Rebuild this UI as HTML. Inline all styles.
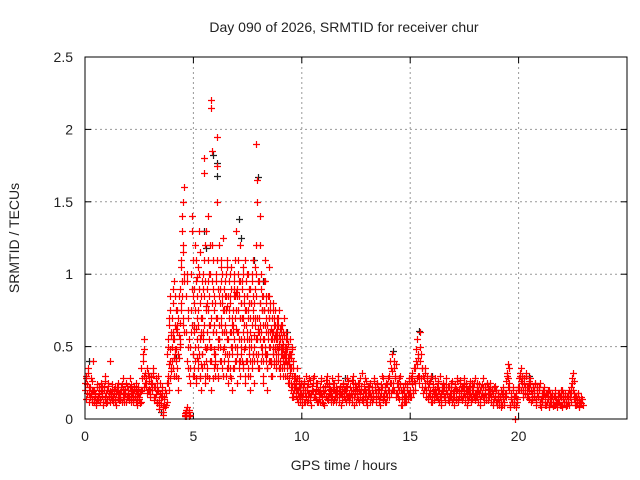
<!DOCTYPE html>
<html><head><meta charset="utf-8"><style>
html,body{margin:0;padding:0;background:#fff;width:640px;height:480px;overflow:hidden}
svg text{font-family:"Liberation Sans",sans-serif;font-size:14px;fill:#222}
</style></head><body>
<svg id="chart" width="640" height="480" xmlns="http://www.w3.org/2000/svg">
<text x="344" y="32" text-anchor="middle">Day 090 of 2026, SRMTID for receiver chur</text>
<text x="344" y="470" text-anchor="middle">GPS time / hours</text>
<text transform="translate(19,238) rotate(-90)" text-anchor="middle">SRMTID / TECUs</text>
<g id="grid"></g>
<g id="ticks"></g>
<g id="blackpts"></g>
<g id="redpts"></g>
<rect x="85" y="57" width="542" height="362" fill="none" stroke="#000" stroke-width="1"/>
</svg>
<script>
const xTicks = [0,5,10,15,20];
const yTicks = [0,0.5,1,1.5,2,2.5];
const yTickLabels = ["0","0.5","1","1.5","2","2.5"];
const binWidth = 0.2;
const redBins = [
"25 30 18 35 22","15 28 12 20 40","12 18 10 22 15","15 20 12 25 18","10 22 30 15 18","12 25 18 40 15","15 20 12 18 22","10 20 15 25 18","15 22 12 28 18","12 18 25 15 20",
"15 28 12 20 18","12 20 15 25 18","10 22 15 18 12","20 45 30 55 25","25 35 20 30 15","20 30 25 35 15","15 28 20 12 30","10 25 15 20 8","5 15 20 10 25","30 50 70 20 40 85 60 35",
"40 80 55 95 30 65 45 75","30 60 75 45 20 85 50 55","80 110 140 95 120 65 160 100","3 5 2 8 100 70 50 30","5 3 25 60 90 130 110 45","30 60 80 120 40 95 25 70 55 105","40 75 100 130 30 55 85 20 60 45","35 60 90 110 170 180 25 50 75 130","30 50 80 95 140 100 65 40 120 20","220 215 185 120 90 60 35 75 45 30",
"40 70 100 150 195 175 55 30 85 120","50 90 65 110 40 80 100 125 30 60","60 90 45 85 100 75 35 55 110 25","40 75 95 60 30 85 105 50 70 20","35 65 90 100 55 85 40 130 75 25","50 85 110 60 40 95 30 70 120 80","45 70 90 60 100 35 80 55 110 25","40 65 85 55 100 30 75 50 90 20","30 60 80 50 95 40 70 45 110 25","40 70 90 55 100 190 150 165 60 35",
"35 60 80 140 120 100 50 75 45 25","30 55 75 95 110 65 45 85 40 20","35 60 85 105 70 50 40 75 55 30","30 55 75 60 45 70 40 65 50 35","40 60 70 55 45 65 35 50 75 30","35 50 65 45 55 40 60 30 45 70","30 45 60 40 50 35 55 25 40 45","25 40 55 35 45 20 30 50 15 35","15 20 25 30 18 22 28 35","12 18 22 28 15 20 25 10",
"15 20 25 12 18 30","12 22 18 28 15","10 20 25 15 30","15 25 12 20 18","12 18 28 15 22","10 20 15 25 30","15 22 18 12 28","12 25 20 15 18","15 30 12 22 18","10 18 25 15 20",
"12 22 28 15 18","15 20 12 25 30","10 18 22 15 25","12 25 15 20 32","15 20 28 12 18","10 22 18 25 15","12 20 15 28 22","15 25 18 12 20","10 22 30 15 18","12 20 25 15 28",
"15 25 35 45 20","20 40 30 15 25","15 25 20 30 10","10 20 15 25 12","12 22 18 28 15","15 25 30 20 35","20 40 55 30 45","25 60 45 35 30","20 35 25 15 30","15 25 20 30 12",
"12 22 18 28 15","15 25 20 12 30","10 20 25 15 22","12 28 18 22 15","15 20 25 12 18","10 22 15 28 20","12 18 25 15 22","15 28 20 12 25","10 20 15 22 18","12 25 18 15 28",
"15 20 25 12 18","10 22 18 28 15","12 20 15 25 22","15 18 25 12 20","10 22 15 20 12","12 18 10 15 20","10 15 20 12 18","15 30 38 20 25","8 15 12 20 10","0 10 15 12 20",
"20 30 35 25 15","18 28 22 32 15","15 25 20 28 12","15 22 18 25 12","10 20 15 22 25","8 15 12 20 18","10 18 12 15 20","8 12 15 18 10","10 15 20 12 8","12 18 10 15 20",
"8 15 12 18 10","10 15 12 20 18","12 25 32 18 15","10 15 12 18 8","12 15 10"
];
const redBins2 = [
"20 28 14 24 32 17","12 22 17 26 14 19","14 20 16 11 24 13","13 17 22 14 19 23","16 12 20 26 14 11","14 20 23 16 12 19","17 13 24 16 21 14","12 17 22 14 19 13","17 13 20 24 15 21","14 21 17 12 23 16",
"17 13 22 15 24 19","14 18 23 16 12 21","13 17 21 14 11 19","35 28 40 22 48 32","22 28 18 32 26 21","17 24 29 20 32 22","13 22 17 25 11 19","7 13 18 11 22 16","3 10 14 8 18 12","45 55 25 65 38 75 28 48 58 33",
"50 70 35 60 90 42 55 85 48 62","40 48 65 35 70 28 58 42 66 52","90 105 75 130 85 115 70 150 60 95","4 2 6 60 85 40 95 35 75 55","2 6 35 50 75 100 140 65 85 30","45 65 35 90 50 75 110 28 62 85 42 98","50 65 35 90 45 80 115 28 70 58 38 95","45 70 55 100 38 85 65 120 30 95 48 78","40 60 90 35 75 110 55 85 28 65 50 100","50 70 40 95 80 110 28 60 85 48 65 38",
"45 80 60 95 35 110 70 50 90 28 65 55","55 80 40 95 70 105 35 60 85 48 75 30","50 75 40 95 65 85 30 60 105 45 78 35","55 85 45 70 100 35 80 60 90 28 65 50","45 75 60 95 35 85 110 50 70 40 88 62","60 90 45 75 100 35 85 55 95 40 70 50","55 80 40 95 70 105 38 65 85 48 75 30","50 75 95 40 85 60 100 35 70 55 80 45","40 70 90 55 80 100 35 65 85 45 75 58","50 80 65 105 45 85 120 55 70 40 95 62",
"45 70 95 55 80 65 40 90 60 75 50 85","40 65 85 55 75 50 95 45 70 60 80 35","45 65 75 55 85 40 70 60 50 80 38 62","40 60 70 50 80 45 65 55 38 75 48 58","45 55 65 50 60 40 70 48 58 35 52 62","40 55 45 60 50 35 65 42 52 48 38 58","35 50 40 55 45 30 48 38 52 42","28 38 45 32 42 25 35 48 22 40","18 24 30 22 28 16 26 20","14 20 26 16 22 12 24 18",
"14 22 18 26 12 20","16 20 24 13 18 27","13 17 23 19 28 15","17 21 14 25 19 12","14 22 17 26 12 19","11 18 23 16 27 14","13 24 17 21 15 19","16 21 13 25 18 22","12 20 27 15 19 23","17 13 21 24 16 19",
"14 18 23 16 26 12","13 22 17 27 15 20","15 19 24 12 21 17","14 20 28 17 23 13","12 18 24 16 21 26","14 20 16 23 12 18","16 22 18 14 26 20","12 18 24 16 21 14","15 24 18 22 13 28","16 22 18 12 24 20",
"20 30 40 25 18 33","25 35 20 28 18 38","18 22 28 14 24 20","14 18 22 12 20 16","16 20 24 14 26 18","20 28 24 32 18 26","25 35 48 38 28 42","30 50 40 28 35 22","18 28 22 32 20 26","14 22 18 26 16 28",
"15 19 24 13 21 17","18 22 14 26 20 16","13 17 22 19 24 15","15 20 24 17 13 22","12 18 22 16 26 14","15 19 24 13 21 26","14 20 16 27 19 23","13 22 18 24 16 20","15 19 13 23 17 26","16 20 14 22 25 18",
"13 17 22 15 20 24","14 20 16 24 18 22","15 18 22 13 24 17","13 21 17 22 16 19","12 18 14 23 16 20","10 14 18 12 16 8","12 17 14 22 10 16","18 26 32 22 28 35","10 14 18 12 22 16","12 16 8 18 14 22",
"22 28 32 20 26 30","20 24 28 18 30 22","17 22 26 14 24 19","13 18 22 16 20 24","14 18 22 16 20 12","10 14 18 12 16 22","12 16 10 18 14 20","10 14 18 12 16 9","12 16 10 18 14 11","14 18 12 16 10 20",
"10 14 18 12 16 9","12 16 14 18 10 15","18 22 28 20 26 14","12 16 10 14 18 9","13 11 14"
];
const blackHours = [5.9,6.1,6.1,8.0,7.1,7.2,4.2,15.4,14.2,0.2,5.5,5.6,7.8,8.2,9.3,16,12,20.5,3.5,4.6];
const blackValues = [1.82,1.77,1.68,1.67,1.38,1.25,0.42,0.61,0.47,0.4,1.3,1.18,1.1,0.95,0.6,0.3,0.28,0.3,0.05,0.02];

const X0=85, X1=627, Y0=419, Y1=57;
const xs = h => X0 + h/25*(X1-X0);
const ys = v => Y0 - v/2.5*(Y0-Y1);
const NS="http://www.w3.org/2000/svg";
function mk(tag, attrs, parent){const e=document.createElementNS(NS,tag);for(const k in attrs)e.setAttribute(k,attrs[k]);parent.appendChild(e);return e;}
const grid=document.getElementById('grid'), ticks=document.getElementById('ticks');
xTicks.forEach(t=>{
  const x=xs(t);
  if(t>0){const g=mk('line',{x1:x,x2:x,y1:Y0,y2:Y1,stroke:'#999','stroke-dasharray':'2,3'},grid);
  
  }
  mk('line',{x1:x,x2:x,y1:Y0,y2:Y0-6,stroke:'#000'},ticks);
  mk('line',{x1:x,x2:x,y1:Y1,y2:Y1+6,stroke:'#000'},ticks);
  const l=mk('text',{x:x,y:Y0+22,'text-anchor':'middle'},ticks);l.textContent=t;
  
  
});
yTicks.forEach((t,i)=>{
  const y=ys(t);
  if(t>0&&t<2.5){const g=mk('line',{x1:X0,x2:X1,y1:y,y2:y,stroke:'#999','stroke-dasharray':'2,3'},grid);
  
  }
  mk('line',{x1:X0,x2:X0+6,y1:y,y2:y,stroke:'#000'},ticks);
  mk('line',{x1:X1,x2:X1-6,y1:y,y2:y,stroke:'#000'},ticks);
  const l=mk('text',{x:X0-12,y:y+5,'text-anchor':'end'},ticks);l.textContent=yTickLabels[i];
  
  
});
function plus(g,h,v,col){
  const x=Math.round(xs(h))+0.5, y=Math.round(ys(v))+0.5;
  const p=mk('path',{d:`M${x-3.5} ${y}h7M${x} ${y-3.5}v7`,stroke:col,'stroke-width':1.2,fill:'none'},g);
  
  
}
const bg=document.getElementById('blackpts');
blackHours.forEach((h,i)=>plus(bg,h,blackValues[i],'#222'));
const rg=document.getElementById('redpts');
function drawBins(bins, offset){
  bins.forEach((s,i)=>{
    const vals=s.split(' ').map(Number);
    vals.forEach((v,j)=>{
      const h=i*binWidth+(j+offset)/vals.length*binWidth;
      plus(rg,h,v/100,'#ff0000');
    });
  });
}
drawBins(redBins,0.5);
drawBins(redBins2,0.0);
</script>
</body></html>
